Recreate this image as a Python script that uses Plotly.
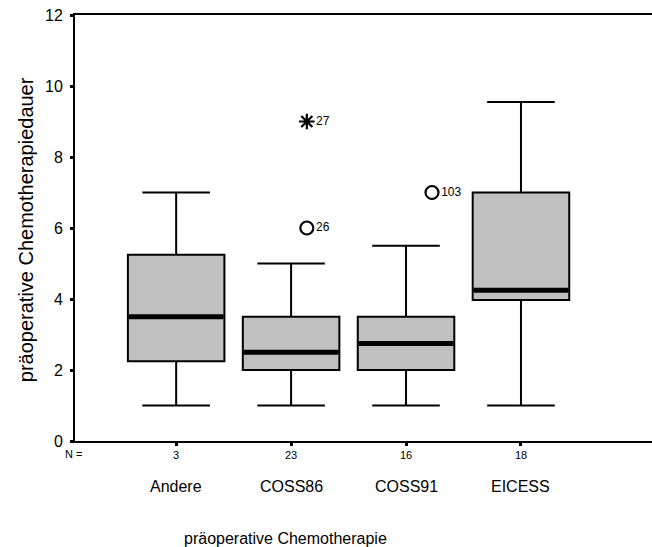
import plotly.graph_objects as go

categories = ["Andere", "COSS86", "COSS91", "EICESS"]
n_values = ["3", "23", "16", "18"]
q1 = [2.25, 2.0, 2.0, 3.97]
median = [3.5, 2.5, 2.75, 4.25]
q3 = [5.25, 3.5, 3.5, 7.0]
lower = [1.0, 1.0, 1.0, 1.0]
upper = [7.0, 5.0, 5.5, 9.55]

# outliers: (category index, value, case label, symbol)
out_cat = [1, 1, 2]
out_val = [9.0, 6.0, 7.0]
out_label = ["27", "26", "103"]
out_symbol = ["asterisk-open", "circle-open", "circle-open"]
out_dx = [0.137, 0.137, 0.226]  # horizontal display offset of the outlier marks

FONT = "Liberation Sans, Arial, sans-serif"
BOXW = 0.84

fig = go.Figure()
for i, c in enumerate(categories):
    fig.add_trace(go.Box(
        x=[i], q1=[q1[i]], median=[median[i]], q3=[q3[i]],
        lowerfence=[lower[i]], upperfence=[upper[i]],
        width=BOXW, whiskerwidth=0.7, boxpoints=False,
        fillcolor="#c0c0c0", line=dict(color="black", width=2),
        showlegend=False, hoverinfo="skip"))
    fig.add_trace(go.Scatter(
        x=[i - BOXW / 2 + 0.01, i + BOXW / 2 - 0.01], y=[median[i], median[i]],
        mode="lines", line=dict(color="black", width=5),
        showlegend=False, hoverinfo="skip"))

for k in range(len(out_val)):
    fig.add_trace(go.Scatter(
        x=[out_cat[k] + out_dx[k]], y=[out_val[k]], mode="markers+text",
        marker=dict(symbol=out_symbol[k], size=13, color="black",
                    line=dict(color="black", width=2.2)),
        text=[out_label[k]], textposition="middle right",
        textfont=dict(family=FONT, size=12, color="black"),
        showlegend=False, hoverinfo="skip"))

annotations = []
for i, c in enumerate(categories):
    annotations.append(dict(x=i, xref="x", y=0, yref="paper", yanchor="middle",
                            yshift=-14, text=n_values[i], showarrow=False,
                            font=dict(family=FONT, size=11, color="black")))
    annotations.append(dict(x=i, xref="x", y=0, yref="paper", yanchor="middle",
                            yshift=-45, text=c, showarrow=False,
                            font=dict(family=FONT, size=16, color="black")))
annotations.append(dict(x=-0.002, xref="paper", xanchor="center", y=0, yref="paper",
                        yanchor="middle", yshift=-13, text="N =", showarrow=False,
                        font=dict(family=FONT, size=11, color="black")))
annotations.append(dict(x=0.364, xref="paper", y=0, yref="paper", yanchor="middle",
                        yshift=-97, text="präoperative Chemotherapie", showarrow=False,
                        font=dict(family=FONT, size=16, color="black")))
annotations.append(dict(x=-0.085, xref="paper", y=0.497, yref="paper",
                        xanchor="center", yanchor="middle", textangle=-90,
                        text="präoperative Chemotherapiedauer", showarrow=False,
                        font=dict(family=FONT, size=20, color="black")))

fig.update_layout(
    width=652, height=547,
    margin=dict(l=75, r=0, t=15, b=106),
    paper_bgcolor="white", plot_bgcolor="white",
    font=dict(family=FONT, color="black"),
    annotations=annotations,
    xaxis=dict(range=[-0.88, 4.14], tickvals=[0, 1, 2, 3], showticklabels=False,
               ticks="outside", ticklen=3, tickwidth=3, tickcolor="black",
               showline=True, linecolor="black", linewidth=2, mirror=True,
               showgrid=False, zeroline=False),
    yaxis=dict(range=[0, 12], tickvals=[0, 2, 4, 6, 8, 10, 12],
               ticks="outside", ticklen=3, tickwidth=3, tickcolor="black",
               tickfont=dict(family=FONT, size=16, color="black"),
               ticklabelstandoff=4,
               showline=True, linecolor="black", linewidth=2,
               showgrid=False, zeroline=False),
)

fig.write_html(
    "out.html",
    config={"displayModeBar": False},
    post_script="document.body.style.margin='0';document.body.style.overflow='hidden';",
)
